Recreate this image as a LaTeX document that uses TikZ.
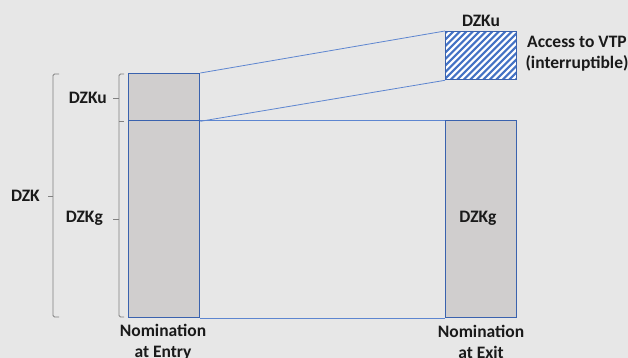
\documentclass[tikz,border=0pt]{standalone}
\usepackage{fontspec}
\setmainfont{Carlito}
\definecolor{bg}{HTML}{E7E7E7}
\definecolor{barfill}{HTML}{D0CECE}
\definecolor{barline}{HTML}{3A62AE}
\definecolor{conn}{HTML}{5E86D0}
\definecolor{hatchc}{HTML}{4472C4}
\definecolor{brc}{HTML}{808080}
\definecolor{txt}{HTML}{1A1A1A}
\begin{document}
\begin{tikzpicture}[x=1pt,y=-1pt,
  bar/.style={draw=barline, fill=barfill, line width=1.3pt, anchor=north west, inner sep=0pt, minimum width=71pt},
  hatchbox/.style={draw=barline, fill=white, line width=1.3pt, anchor=north west, inner sep=0pt,
    minimum width=71pt, minimum height=48pt,
    path picture={
      \foreach \i in {-60,-53.5,...,80}
        \draw[hatchc, line width=2.2pt] ([xshift=\i pt]path picture bounding box.south west) -- ++(60,-60);
    }},
  conn/.style={draw=conn, line width=0.8pt},
  brace/.style={draw=brc, line width=0.9pt, rounded corners=1.5pt},
  lbl/.style={text=txt, font=\fontsize{17.5}{21}\selectfont\bfseries, inner sep=0pt, align=center},
]
\fill[bg] (0,0) rectangle (628,358);
\clip (0,0) rectangle (628,358);

% bars
\node[bar, minimum height=47pt] (ku) at (128,73) {};
\node[bar, minimum height=197pt] (g) at (128,120) {};
\node[bar, minimum height=197pt] (exit) at (445,120) {};
\node[hatchbox] (hatch) at (445,31) {};

% connectors
\draw[conn] (ku.north east) -- (hatch.north west);
\draw[conn] (ku.south east) -- (hatch.south west);
\draw[conn] (g.north east) -- (exit.north west);
\draw[conn] (g.south east) -- (exit.south west);

% braces
\coordinate (bigtip) at (48,196);
\draw[brace] (59,74) -- (53,74) -- (53,317) -- (59,317);
\draw[brace] (53,196) -- (bigtip);
\draw[brace] (124,74) -- (119,74) -- (119,317) -- (124,317);
\draw[brace] (119,121) -- (124,121);
\coordinate (kutip) at (113,98);
\coordinate (gtip) at (113,219);
\draw[brace] (119,98) -- (kutip);
\draw[brace] (119,219) -- (gtip);

% labels
\node[lbl, anchor=east] (lDZK) at (40,196) {DZK};
\node[lbl, anchor=east] (lDZKu) at (107,98) {DZKu};
\node[lbl, anchor=east] (lDZKg) at (103,218) {DZKg};
\node[lbl] (lDZKg2) at (478,218) {DZKg};
\node[lbl] (lDZKtop) at (481,21) {DZKu};
\node[lbl] (lacc) at (577,54) {Access to VTP\\(interruptible)};
\node[lbl, anchor=north] (lentry) at (163,324) {Nomination\\at Entry};
\node[lbl, anchor=north] (lexit) at (481,325) {Nomination\\at Exit};
\end{tikzpicture}
\end{document}
